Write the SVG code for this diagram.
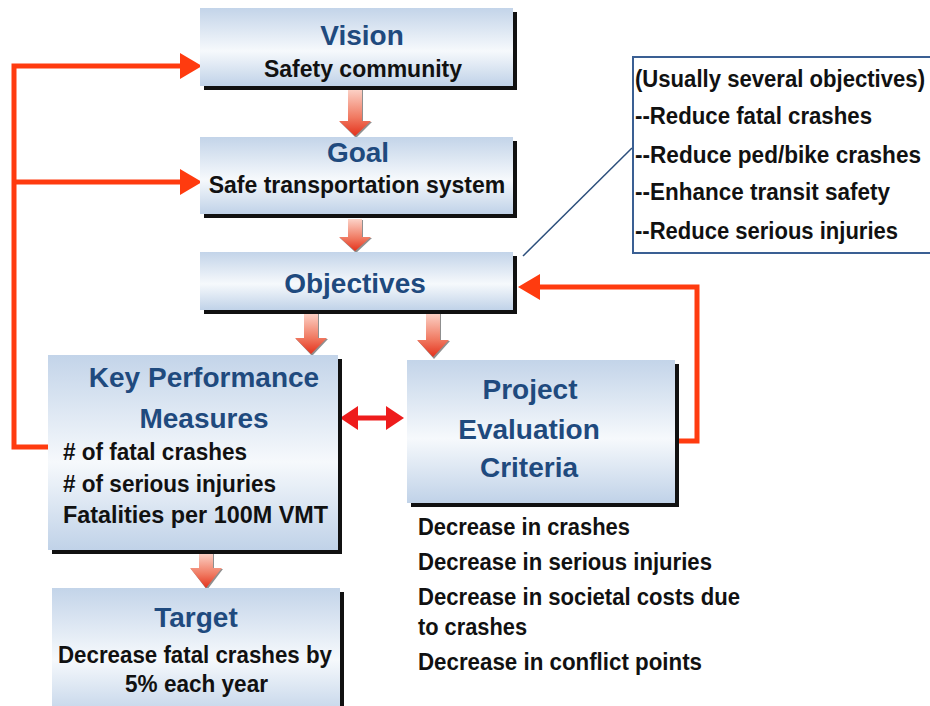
<svg xmlns="http://www.w3.org/2000/svg" width="930" height="706" viewBox="0 0 930 706">
<defs>
<linearGradient id="boxg" x1="0" y1="0" x2="0" y2="1">
<stop offset="0" stop-color="#c3d4e9"/>
<stop offset="0.55" stop-color="#f6f9fc"/>
<stop offset="1" stop-color="#c0d2e8"/>
</linearGradient>
<linearGradient id="arrg" x1="0" y1="0" x2="0" y2="1">
<stop offset="0" stop-color="#fcd3c8"/>
<stop offset="0.6" stop-color="#f07a62"/>
<stop offset="1" stop-color="#e4321c"/>
</linearGradient>
</defs>
<style>
.box{fill:url(#boxg);}
.sh{fill:#111;}
.title{font-family:"Liberation Sans",Arial,sans-serif;font-weight:bold;font-size:28px;fill:#1f4a7e;text-anchor:middle;}
.body{font-family:"Liberation Sans",Arial,sans-serif;font-weight:bold;font-size:23px;fill:#111;}
.c{text-anchor:middle;}
.blk{fill:url(#arrg);}
.blksh{fill:#333;opacity:0.55;}
.red{fill:none;stroke:#ff3b0f;stroke-width:5;}
.redh{fill:#ff3b0f;}
.dbl{fill:none;stroke:#ee1c1c;stroke-width:5;}
.dblh{fill:#ee1c1c;}
</style>
<rect width="930" height="706" fill="#ffffff"/>

<g id="connectors">
<path class="red" d="M48,447 H14 V66 H182"/>
<polygon class="redh" points="180,53 202,66 180,79"/>
<path class="red" d="M14,182 H182"/>
<polygon class="redh" points="180,169 202,182 180,195"/>
<path class="red" d="M677,441 H697 V287 H538"/>
<polygon class="redh" points="540,274 518,287 540,300"/>
<path class="dbl" d="M354,418 H390"/>
<polygon class="dblh" points="340,418 358,406 358,430"/>
<polygon class="dblh" points="404,418 386,406 386,430"/>
<line x1="632" y1="148" x2="523" y2="256" stroke="#2c4f7c" stroke-width="1.5"/>
<polygon class="blksh" points="349,90 363,90 363,122 372,122 356,138 340,122 349,122"/>
<polygon class="blk" points="348,89 362,89 362,121 371,121 355,136 339,121 348,121"/>
<polygon class="blksh" points="349,220 363,220 363,238 372,238 356,253 340,238 349,238"/>
<polygon class="blk" points="348,219 362,219 362,237 371,237 355,251 339,237 348,237"/>
<polygon class="blksh" points="305,314 319,314 319,339 328,339 312,356 296,339 305,339"/>
<polygon class="blk" points="304,313 318,313 318,338 327,338 311,354 295,338 304,338"/>
<polygon class="blksh" points="427,314 441,314 441,341 450,341 434,359 418,341 427,341"/>
<polygon class="blk" points="426,313 440,313 440,340 449,340 433,357 417,340 426,340"/>
<polygon class="blksh" points="200,554 214,554 214,569 223,569 207,590 191,569 200,569"/>
<polygon class="blk" points="199,553 213,553 213,568 222,568 206,588 190,568 199,568"/>
</g>

<g id="vision">
<rect class="sh" x="204" y="12" width="313" height="78"/>
<rect class="box" x="200" y="8" width="313" height="78"/>
<text class="title" x="362" y="45">Vision</text>
<text class="body c" x="363" y="77">Safety community</text>
</g>

<g id="goal">
<rect class="sh" x="204" y="141" width="313" height="77"/>
<rect class="box" x="200" y="137" width="313" height="77"/>
<text class="title" x="358" y="162">Goal</text>
<text class="body c" x="357" y="193">Safe transportation system</text>
</g>

<g id="objectives">
<rect class="sh" x="204" y="256" width="313" height="58"/>
<rect class="box" x="200" y="252" width="313" height="58"/>
<text class="title" x="355" y="293">Objectives</text>
</g>

<g id="kpm">
<rect class="sh" x="52" y="359" width="290" height="195"/>
<rect class="box" x="48" y="355" width="290" height="195"/>
<text class="title" x="204" y="387">Key Performance</text>
<text class="title" x="204" y="428">Measures</text>
<text class="body" x="63" y="460" textLength="184" lengthAdjust="spacingAndGlyphs"># of fatal crashes</text>
<text class="body" x="63" y="492" textLength="213" lengthAdjust="spacingAndGlyphs"># of serious injuries</text>
<text class="body" x="63" y="523" textLength="265" lengthAdjust="spacingAndGlyphs">Fatalities per 100M VMT</text>
</g>

<g id="pec">
<rect class="sh" x="411" y="364" width="268" height="143"/>
<rect class="box" x="407" y="360" width="268" height="143"/>
<text class="title" x="530" y="399">Project</text>
<text class="title" x="529" y="439">Evaluation</text>
<text class="title" x="529" y="477">Criteria</text>
</g>

<g id="target">
<rect class="sh" x="56" y="592" width="288" height="130"/>
<rect class="box" x="52" y="588" width="288" height="130"/>
<text class="title" x="196" y="627">Target</text>
<text class="body" x="58" y="663" textLength="274" lengthAdjust="spacingAndGlyphs">Decrease fatal crashes by</text>
<text class="body" x="125" y="692" textLength="143" lengthAdjust="spacingAndGlyphs">5% each year</text>
</g>

<g id="callout">
<rect x="633" y="57" width="310" height="196" fill="#ffffff" stroke="#3a5f93" stroke-width="2"/>
<text class="body" x="635" y="87" textLength="290" lengthAdjust="spacingAndGlyphs">(Usually several objectives)</text>
<text class="body" x="635" y="124" textLength="237" lengthAdjust="spacingAndGlyphs">--Reduce fatal crashes</text>
<text class="body" x="635" y="163" textLength="286" lengthAdjust="spacingAndGlyphs">--Reduce ped/bike crashes</text>
<text class="body" x="635" y="200" textLength="255" lengthAdjust="spacingAndGlyphs">--Enhance transit safety</text>
<text class="body" x="635" y="239" textLength="263" lengthAdjust="spacingAndGlyphs">--Reduce serious injuries</text>
</g>

<g id="criteria-list">
<text class="body" x="418" y="535" textLength="212" lengthAdjust="spacingAndGlyphs">Decrease in crashes</text>
<text class="body" x="418" y="570" textLength="294" lengthAdjust="spacingAndGlyphs">Decrease in serious injuries</text>
<text class="body" x="418" y="605" textLength="322" lengthAdjust="spacingAndGlyphs">Decrease in societal costs due</text>
<text class="body" x="418" y="635" textLength="109" lengthAdjust="spacingAndGlyphs">to crashes</text>
<text class="body" x="418" y="670" textLength="284" lengthAdjust="spacingAndGlyphs">Decrease in conflict points</text>
</g>
</svg>
